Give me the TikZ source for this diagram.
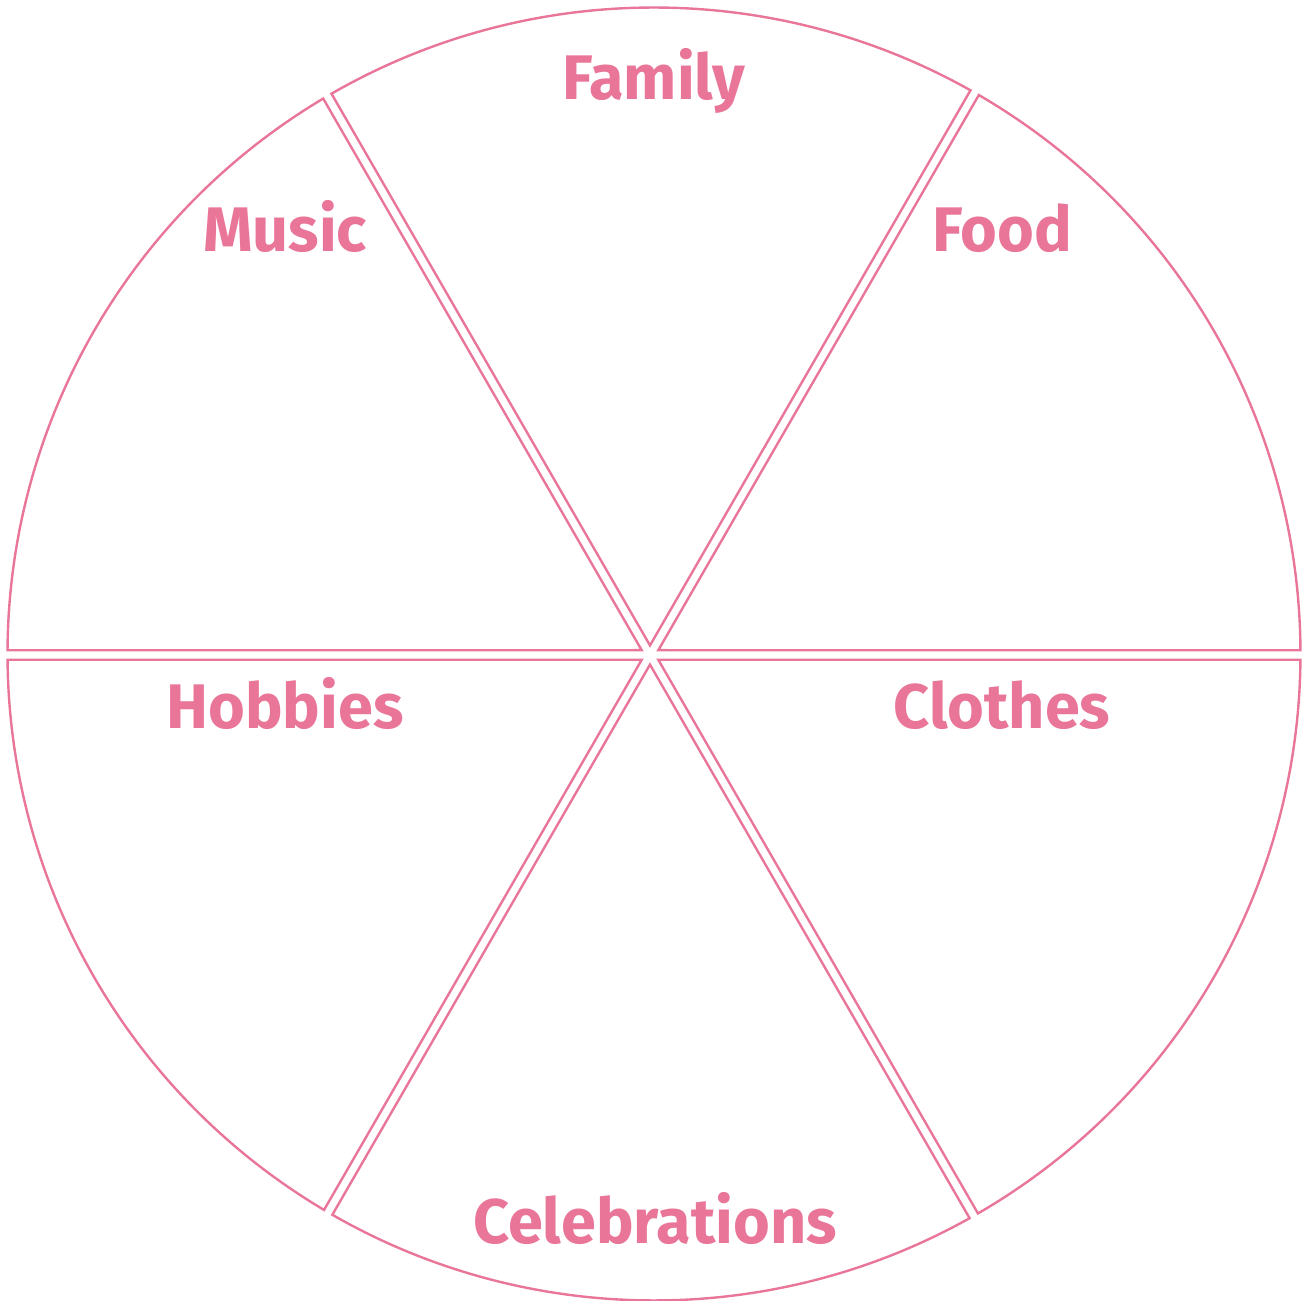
\documentclass[tikz,border=0pt]{standalone}
\usepackage{fontspec}
\setmainfont{Fira Sans}
\usetikzlibrary{calc}
\definecolor{pinkline}{RGB}{233,117,153}
\begin{document}
\begin{tikzpicture}[x=1pt,y=1pt,
  sector/.style={draw=pinkline, line width=2.4pt, line join=miter},
  lab/.style={text=pinkline, font=\bfseries\fontsize{63}{72}\selectfont, anchor=base, inner sep=0pt}]
\useasboundingbox (-654,-647) rectangle (653,654);
\def\R{646.5}
\def\gap{4.8}
\coordinate (O) at (-4,-1);
\foreach \a in {0,60,...,300} {
  \pgfmathsetmacro\tA{\a + asin((4*sin(\a)-cos(\a)+\gap)/\R)}
  \pgfmathsetmacro\tB{\a+60 + asin((4*sin(\a+60)-cos(\a+60)-\gap)/\R)}
  \draw[sector] ($(O)+(\a+30:2*\gap)$) -- (\tA:\R) arc[start angle=\tA, end angle=\tB, radius=\R] -- cycle;
}
\node[lab] (family) at (0,554) {Family};
\node[lab] (music) at (-369,402) {Music};
\node[lab] (food) at (348,402) {Food};
\node[lab] (hobbies) at (-369,-74) {Hobbies};
\node[lab] (clothes) at (348,-74) {Clothes};
\node[lab] (celebrations) at (1,-589) {Celebrations};
\end{tikzpicture}
\end{document}
